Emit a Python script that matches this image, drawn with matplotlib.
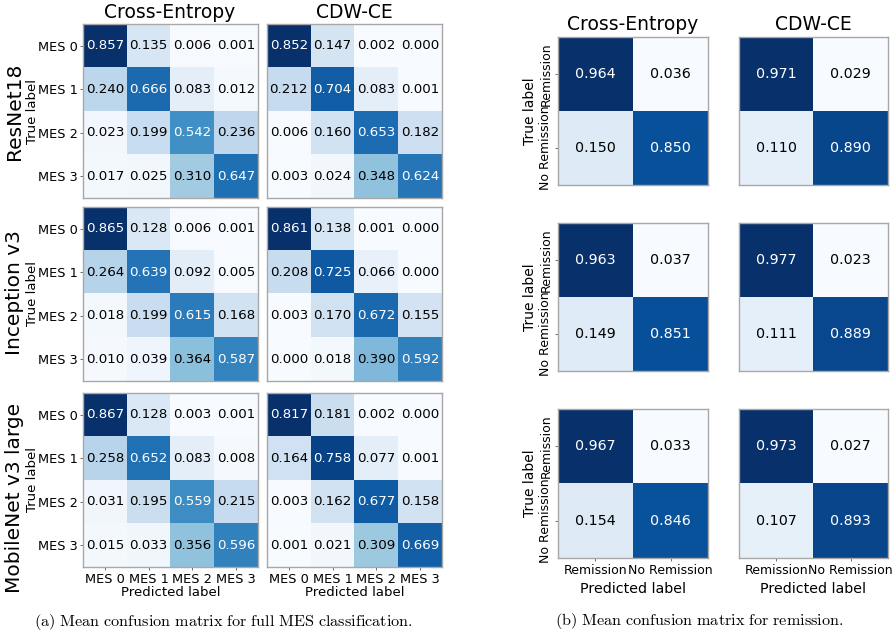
import numpy as np
import matplotlib
matplotlib.use('Agg')
import matplotlib.pyplot as plt

plt.rcParams['mathtext.fontset'] = 'cm'

'''{Data}'''
models = ['ResNet18', 'Inception v3', 'MobileNet v3 large']
losses = ['Cross-Entropy', 'CDW-CE']
mes_labels = ['MES 0', 'MES 1', 'MES 2', 'MES 3']
rem_labels = ['Remission', 'No Remission']

# full MES classification, [model][loss]
resnet_ce = [[0.857, 0.135, 0.006, 0.001],
             [0.240, 0.666, 0.083, 0.012],
             [0.023, 0.199, 0.542, 0.236],
             [0.017, 0.025, 0.310, 0.647]]
resnet_cdw = [[0.852, 0.147, 0.002, 0.000],
              [0.212, 0.704, 0.083, 0.001],
              [0.006, 0.160, 0.653, 0.182],
              [0.003, 0.024, 0.348, 0.624]]
inception_ce = [[0.865, 0.128, 0.006, 0.001],
                [0.264, 0.639, 0.092, 0.005],
                [0.018, 0.199, 0.615, 0.168],
                [0.010, 0.039, 0.364, 0.587]]
inception_cdw = [[0.861, 0.138, 0.001, 0.000],
                 [0.208, 0.725, 0.066, 0.000],
                 [0.003, 0.170, 0.672, 0.155],
                 [0.000, 0.018, 0.390, 0.592]]
mobilenet_ce = [[0.867, 0.128, 0.003, 0.001],
                [0.258, 0.652, 0.083, 0.008],
                [0.031, 0.195, 0.559, 0.215],
                [0.015, 0.033, 0.356, 0.596]]
mobilenet_cdw = [[0.817, 0.181, 0.002, 0.000],
                 [0.164, 0.758, 0.077, 0.001],
                 [0.003, 0.162, 0.677, 0.158],
                 [0.001, 0.021, 0.309, 0.669]]

# remission, [model][loss]
resnet_rem_ce = [[0.964, 0.036], [0.150, 0.850]]
resnet_rem_cdw = [[0.971, 0.029], [0.110, 0.890]]
inception_rem_ce = [[0.963, 0.037], [0.149, 0.851]]
inception_rem_cdw = [[0.977, 0.023], [0.111, 0.889]]
mobilenet_rem_ce = [[0.967, 0.033], [0.154, 0.846]]
mobilenet_rem_cdw = [[0.973, 0.027], [0.107, 0.893]]

mes_mats = [[resnet_ce, resnet_cdw],
            [inception_ce, inception_cdw],
            [mobilenet_ce, mobilenet_cdw]]
rem_mats = [[resnet_rem_ce, resnet_rem_cdw],
            [inception_rem_ce, inception_rem_cdw],
            [mobilenet_rem_ce, mobilenet_rem_cdw]]

W, H = 895, 636
fig = plt.figure(figsize=(W / 100, H / 100), dpi=100)


def px_axes(x0, x1, y0, y1):
    return fig.add_axes([x0 / W, 1 - y1 / H, (x1 - x0) / W, (y1 - y0) / H])


def draw_cm(ax, mat, fs):
    mat = np.array(mat)
    ax.imshow(mat, cmap='Blues', aspect='auto', interpolation='nearest')
    thresh = (mat.max() + mat.min()) / 2
    for i in range(mat.shape[0]):
        for j in range(mat.shape[1]):
            col = 'white' if mat[i, j] > thresh else 'black'
            ax.text(j, i, f'{mat[i, j]:.3f}', ha='center', va='center',
                    color=col, fontsize=fs)
    for s in ax.spines.values():
        s.set_color('#a8a8a8')
        s.set_linewidth(1.0)
    ax.tick_params(length=2.5, width=0.6, color='#555555', pad=1.5)


'''{Left: full MES}'''
lx = [(83, 258), (267, 442)]
ly = [(24, 198), (207, 381), (393, 567)]
for r in range(3):
    for c in range(2):
        ax = px_axes(lx[c][0], lx[c][1], ly[r][0], ly[r][1])
        draw_cm(ax, mes_mats[r][c], 9.6)
        ax.set_xticks(range(4))
        ax.set_yticks(range(4))
        if r == 2:
            ax.set_xticklabels(mes_labels, fontsize=9.3)
            ax.set_xlabel('Predicted label', fontsize=9.5, labelpad=0)
        else:
            ax.set_xticks([])
        if c == 0:
            ax.set_yticklabels(mes_labels, fontsize=9.3)
        else:
            ax.set_yticks([])

fig.text(170 / W, 1 - 12 / H, losses[0], ha='center', va='center', fontsize=13.5)
fig.text(354 / W, 1 - 12 / H, losses[1], ha='center', va='center', fontsize=13.5)
row_centers = [111, 293, 498]
for r in range(3):
    fig.text(15 / W, 1 - row_centers[r] / H, models[r], rotation=90,
             ha='center', va='center', fontsize=14.5)
    fig.text(33 / W, 1 - (ly[r][0] + ly[r][1]) / 2 / H, 'True label', rotation=90,
             ha='center', va='center', fontsize=9.5)

'''{Right: remission}'''
rx = [(558, 708), (739, 888)]
ry = [(37, 185), (223, 371), (409, 558)]
for r in range(3):
    for c in range(2):
        ax = px_axes(rx[c][0], rx[c][1], ry[r][0], ry[r][1])
        draw_cm(ax, rem_mats[r][c], 10.3)
        ax.set_xticks(range(2))
        ax.set_yticks(range(2))
        if r == 2:
            ax.set_xticklabels(rem_labels, fontsize=9)
            ax.set_xlabel('Predicted label', fontsize=10.3, labelpad=4)
        else:
            ax.set_xticks([])
        if c == 0:
            ax.set_yticklabels(rem_labels, fontsize=9, rotation=90, va='center')
            ax.set_ylabel('True label', fontsize=10, labelpad=2)
        else:
            ax.set_yticks([])
        if r == 0:
            ax.set_title(losses[c], fontsize=13.5, pad=5)

'''{Captions}'''
fig.text(224 / W, 1 - 622 / H,
         r'$\mathrm{(a)\ Mean\ confusion\ matrix\ for\ full\ MES\ classification.}$',
         ha='center', va='center', fontsize=11.7)
fig.text(699 / W, 1 - 621 / H,
         r'$\mathrm{(b)\ Mean\ confusion\ matrix\ for\ remission.}$',
         ha='center', va='center', fontsize=11.7)

fig.savefig('out.png', dpi=100)
